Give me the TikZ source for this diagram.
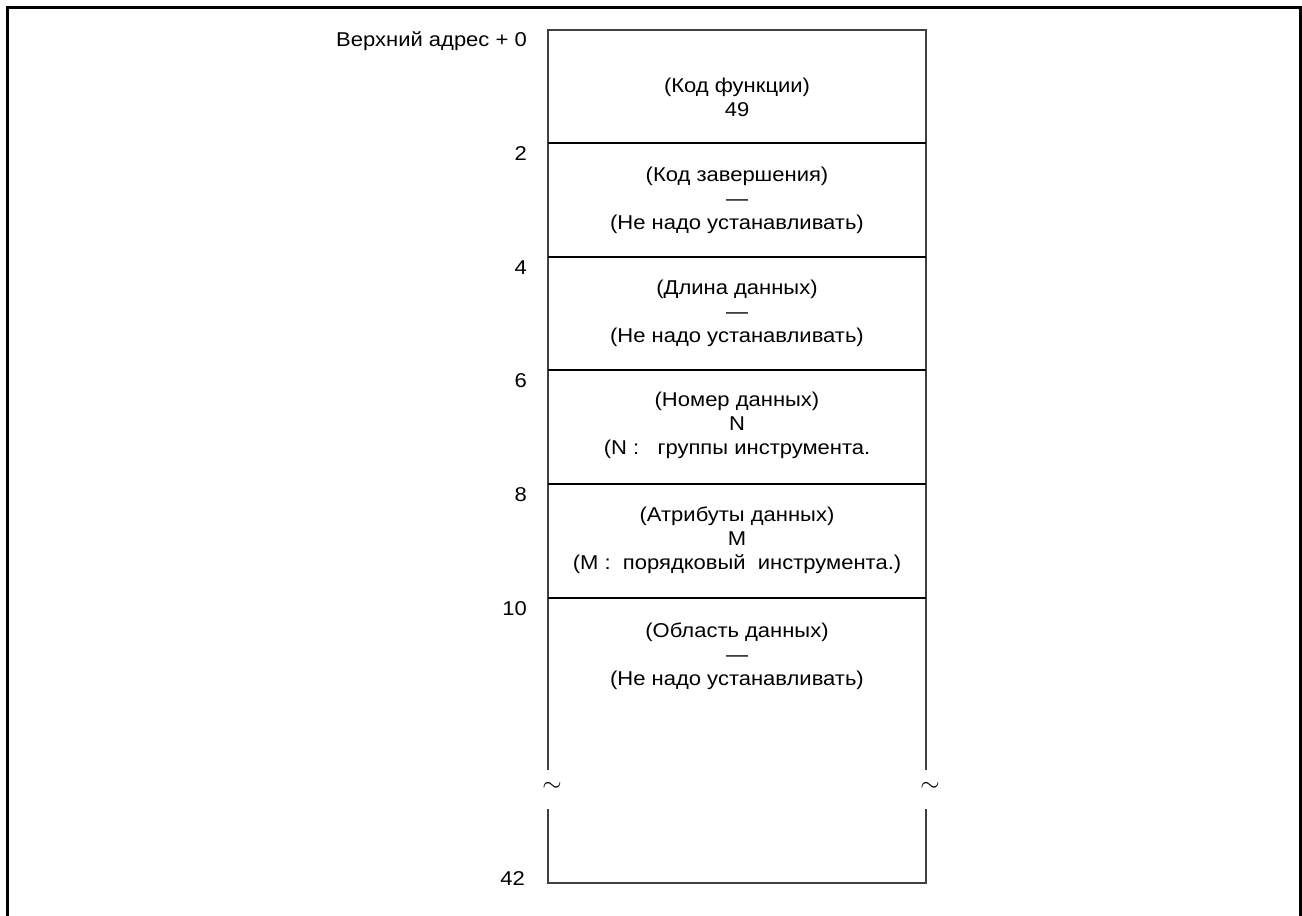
\documentclass[tikz,border=0pt]{standalone}
\usepackage{fontspec}
\setmainfont{Liberation Sans}[FakeStretch=1.1]
\usetikzlibrary{positioning}
\tikzset{
  marco/.style={line width=3pt, draw=black},
  celda/.style={line width=1.6pt, draw=black!75},
  divisor/.style={line width=1.6pt, draw=black},
  texto/.style={font=\fontsize{20}{24}\selectfont, align=center, inner sep=0pt},
  direccion/.style={font=\fontsize{20}{24}\selectfont, anchor=east, inner sep=0pt},
  corte/.style={font=\fontsize{27}{27}\selectfont, inner sep=0pt}
}

\begin{document}
\begin{tikzpicture}[x=1pt, y=-1pt]
  \useasboundingbox (0,0) rectangle (1302,916);

  % Marco exterior (abierto por abajo)
  \draw[marco] (7,916) -- (7,7.5) -- (1300.5,7.5) -- (1300.5,916);

  % Bloque de memoria
  \coordinate (sup izq) at (548,30);
  \coordinate (sup der) at (926,30);
  \coordinate (inf izq) at (548,883);
  \coordinate (inf der) at (926,883);
  \coordinate (corte izq a) at (548,770);
  \coordinate (corte izq b) at (548,809);
  \coordinate (corte der a) at (926,770);
  \coordinate (corte der b) at (926,809);

  \draw[celda] (corte izq a) -- (sup izq) -- (sup der) -- (corte der a);
  \draw[celda] (corte izq b) -- (inf izq) -- (inf der) -- (corte der b);

  \draw[divisor] (548,143) -- (926,143);
  \draw[divisor] (548,257) -- (926,257);
  \draw[divisor] (548,370) -- (926,370);
  \draw[divisor] (548,484) -- (926,484);
  \draw[divisor] (548,598) -- (926,598);

  % Marcas de corte
  \node[corte] (tilde izq) at (552,787) {$\sim$};
  \node[corte] (tilde der) at (930,787) {$\sim$};

  % Direcciones
  \node[direccion] (dir0) at (527,41) {Верхний адрес + 0};
  \node[direccion] (dir2) at (527,154) {2};
  \node[direccion] (dir4) at (527,268) {4};
  \node[direccion] (dir6) at (527,381) {6};
  \node[direccion] (dir8) at (527,495) {8};
  \node[direccion] (dir10) at (527,609) {10};
  \node[direccion] (dir42) at (525,879) {42};

  % Contenido de las celdas
  \node[texto] (funcion) at (737,97) {(Код функции)\\49};
  \node[texto] (fin) at (737,200) {(Код завершения)\\—\\(Не надо устанавливать)};
  \node[texto] (longitud) at (737,313) {(Длина данных)\\—\\(Не надо устанавливать)};
  \node[texto] (numero) at (737,425) {(Номер данных)\\N\\(N :\ \ \ группы инструмента.};
  \node[texto] (atributo) at (737,540) {(Атрибуты данных)\\M\\(M :\ \ порядковый\ \ инструмента.)};
  \node[texto] (area) at (737,656) {(Область данных)\\—\\(Не надо устанавливать)};
\end{tikzpicture}
\end{document}
